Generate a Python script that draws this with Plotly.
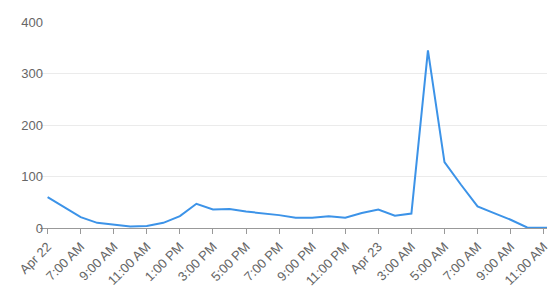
import plotly.graph_objects as go

# hours since first point (Apr 22 label)
hours = list(range(0, 32))
values = [60, 40, 21, 10, 7, 3, 4, 10, 23, 47, 36, 37, 32, 29, 25, 20,
          20, 23, 20, 29, 36, 24, 28, 345, 128, 84, 42, 29, 16, 1, 0, 0]
tick_hours = list(range(0, 32, 2))
tick_labels = ["Apr 22", "7:00 AM", "9:00 AM", "11:00 AM", "1:00 PM", "3:00 PM",
               "5:00 PM", "7:00 PM", "9:00 PM", "11:00 PM", "Apr 23", "3:00 AM",
               "5:00 AM", "7:00 AM", "9:00 AM", "11:00 AM"]

fig = go.Figure(go.Scatter(
    x=hours, y=values, mode="lines",
    line=dict(color="#3c93e8", width=2), hoverinfo="x+y"))

fig.update_layout(
    width=550, height=293,
    margin=dict(l=40, r=0, t=22, b=65),
    paper_bgcolor="white", plot_bgcolor="white",
    showlegend=False,
    font=dict(family="Liberation Sans, Arial, sans-serif", size=13, color="#666"),
)
fig.update_xaxes(
    range=[-0.46, 30.2],
    tickvals=tick_hours, ticktext=tick_labels, tickangle=-45,
    ticklabeloverflow="allow",
    showgrid=False, zeroline=False,
    showline=True, linecolor="#999", linewidth=1,
    ticks="outside", ticklen=5, tickcolor="#999",
    tickfont=dict(size=13, color="#666"),
)
fig.update_yaxes(
    range=[0, 400], tickvals=[0, 100, 200, 300, 400],
    showgrid=True, gridcolor="#ebebeb", gridwidth=1,
    zeroline=False, showline=False, ticks="", ticklen=0,
    ticklabelstandoff=-4,
    tickfont=dict(size=13, color="#666"),
)
fig.write_html("out.html")
